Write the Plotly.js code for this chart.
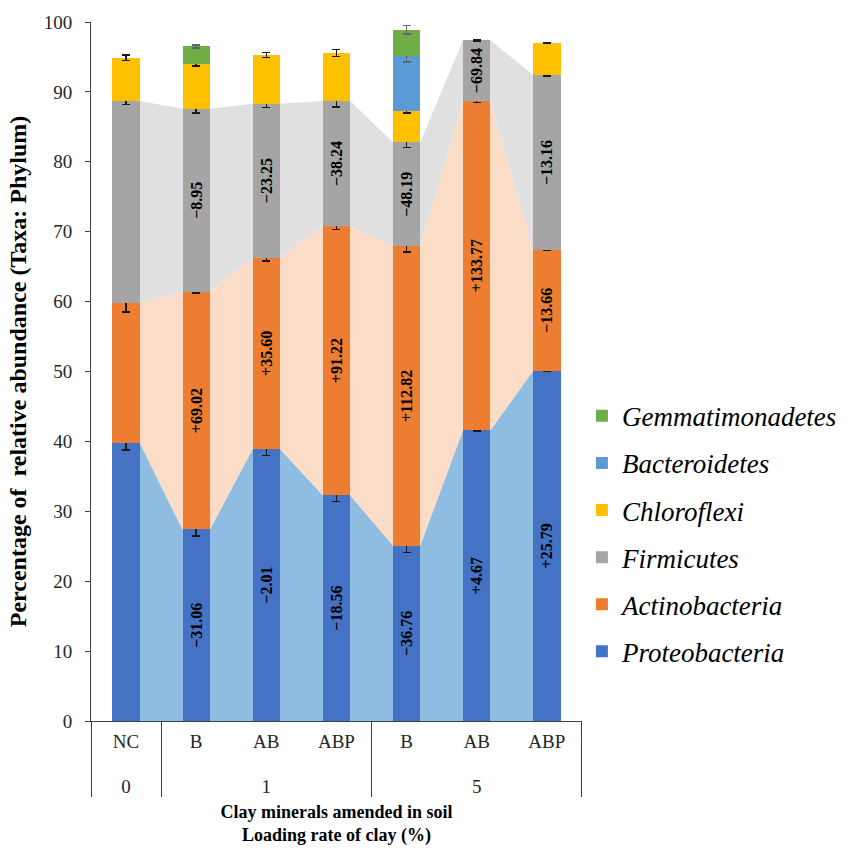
<!DOCTYPE html>
<html>
<head>
<meta charset="utf-8">
<script src="https://cdn.plot.ly/plotly-3.0.1.min.js"></script>
<style>html,body{margin:0;padding:0;background:#fff;}#chart{width:857px;height:848px;}</style>
</head>
<body>
<div id="chart"></div>
<script>
// ---- data ----
const loadingRate = ["0", "1", "1", "1", "5", "5", "5"];
const clayType = ["NC", "B", "AB", "ABP", "B", "AB", "ABP"];

const proteobacteria   = [39.8, 27.4, 38.9, 32.3, 25.1, 41.6, 50.1];
const actinobacteria   = [20.0, 34.0, 27.4, 38.5, 42.8, 47.1, 17.3];
const firmicutes       = [28.9, 26.2, 22.0, 17.9, 14.9, 8.7, 25.0];
const chloroflexi      = [6.2, 6.4, 7.0, 6.9, 4.4, null, 4.6];
const bacteroidetes    = [null, null, null, null, 8.0, null, null];
const gemmatimonadetes = [null, 2.5, null, null, 3.7, null, null];

const proteobacteriaErr   = [1.0, 0.9, 0.9, 0.9, 1.0, 0.1, 0.1];
const actinobacteriaErr   = [1.3, 0.15, 0.5, 0.5, 0.8, 0.25, 0.1];
const firmicutesErr       = [0.5, 0.6, 0.5, 0.85, 0.75, 0.1, 0.1];
const chloroflexiErr      = [0.4, 0.3, 0.35, 0.5, 0.2, null, 0.1];
const bacteroidetesErr    = [null, null, null, null, 0.95, null, null];
const gemmatimonadetesErr = [null, 0.2, null, null, 0.6, null, null];

const proteobacteriaChange = ["", "\u221231.06", "\u22122.01", "\u221218.56", "\u221236.76", "+4.67", "+25.79"];
const actinobacteriaChange = ["", "+69.02", "+35.60", "+91.22", "+112.82", "+133.77", "\u221213.66"];
const firmicutesChange     = ["", "\u22128.95", "\u221223.25", "\u221238.24", "\u221248.19", "\u221269.84", "\u221213.16"];

// ---- styling ----
const SERIF = "Liberation Serif";
const BAR_WIDTH = 0.39;
const colors = {
  proteo: "#4472C4", actino: "#ED7D31", firm: "#A5A5A5",
  chloro: "#FFC000", bact: "#5B9BD5", gemm: "#70AD47",
  proteoArea: "#8FBDE2", actinoArea: "#FBDCC6", firmArea: "#E0E0E0"
};

// connecting bands (drawn on a hidden linear axis behind the bars)
const bandX = [];
clayType.forEach((_, i) => { bandX.push(i - BAR_WIDTH / 2, i + BAR_WIDTH / 2); });
const cum1 = proteobacteria;
const cum2 = proteobacteria.map((v, i) => v + actinobacteria[i]);
const cum3 = cum2.map((v, i) => v + firmicutes[i]);
const dup = arr => { const o = []; arr.forEach(v => { o.push(v, v); }); return o; };

function band(yvals, fillMode, color) {
  return {
    type: "scatter", mode: "lines", x: bandX, y: dup(yvals),
    xaxis: "x", yaxis: "y", fill: fillMode, fillcolor: color,
    line: { width: 0, color: color }, showlegend: false, hoverinfo: "skip"
  };
}

// primary labels get an empty second line so the group level sits lower, as in the reference
const xCats = [loadingRate, clayType.map(c => c + "<br>\u00a0")];
function barTrace(name, vals, errs, color, labels, rank, errColor) {
  const t = {
    type: "bar", name: name, legendgroup: name, legendrank: rank,
    x: xCats, y: vals, xaxis: "x2", yaxis: "y",
    marker: { color: color, line: { width: 0 } },
    error_y: { type: "data", array: errs, visible: true, color: errColor || "#1a1a1a", thickness: 1.5, width: 4 },
    hoverinfo: "y+name"
  };
  if (labels) {
    t.text = labels;
    t.textposition = "inside";
    t.insidetextanchor = "middle";
    t.textangle = -90;
    t.constraintext = "none";
    t.textfont = { family: SERIF, size: 16, color: "#000", weight: "bold" };
  } else {
    t.textposition = "none";
  }
  return t;
}

const data = [
  band(cum1, "tozeroy", colors.proteoArea),
  band(cum2, "tonexty", colors.actinoArea),
  band(cum3, "tonexty", colors.firmArea),
  barTrace("Proteobacteria", proteobacteria, proteobacteriaErr, colors.proteo, proteobacteriaChange, 6),
  barTrace("Actinobacteria", actinobacteria, actinobacteriaErr, colors.actino, actinobacteriaChange, 5),
  barTrace("Firmicutes", firmicutes, firmicutesErr, colors.firm, firmicutesChange, 4),
  barTrace("Chloroflexi", chloroflexi, chloroflexiErr, colors.chloro, null, 3),
  barTrace("Bacteroidetes", bacteroidetes, bacteroidetesErr, colors.bact, null, 2, "#666"),
  barTrace("Gemmatimonadetes", gemmatimonadetes, gemmatimonadetesErr, colors.gemm, null, 1, "#666")
];

const layout = {
  width: 857, height: 848,
  margin: { l: 91, r: 270, t: 22, b: 127 },
  paper_bgcolor: "#fff", plot_bgcolor: "rgba(0,0,0,0)",
  font: { family: SERIF, color: "#262626", size: 19 },
  barmode: "stack", bargap: 1 - BAR_WIDTH,
  showlegend: true,
  legend: {
    xref: "container", yref: "container", x: 0.679, y: 0.538,
    xanchor: "left", yanchor: "top", traceorder: "grouped",
    font: { family: SERIF, size: 27, color: "#000", style: "italic" },
    bgcolor: "rgba(0,0,0,0)", tracegroupgap: 9, itemwidth: 30
  },
  xaxis: { type: "linear", range: [-0.5, 6.5], visible: false, fixedrange: true },
  xaxis2: {
    type: "multicategory", overlaying: "x", side: "bottom", range: [-0.5, 6.5],
    showline: true, linecolor: "#404040", linewidth: 1, ticks: "",
    showdividers: true, dividercolor: "#404040", dividerwidth: 1,
    tickfont: { family: SERIF, size: 19, color: "#262626" },
    ticklabelstandoff: 3,
    title: { text: "Clay minerals amended in soil<br>Loading rate of clay (%)",
             font: { family: SERIF, size: 18, color: "#000", weight: "bold" }, standoff: 9 },
    showgrid: false, zeroline: false
  },
  yaxis: {
    range: [0, 100], dtick: 10, tick0: 0, showgrid: false, zeroline: false,
    showline: true, linecolor: "#404040", linewidth: 1,
    ticks: "outside", ticklen: 5, tickcolor: "#404040", ticklabelstandoff: 9,
    tickfont: { family: SERIF, size: 19, color: "#262626" },
    title: { text: "Percentage of  relative abundance (Taxa: Phylum)",
             font: { family: SERIF, size: 24, color: "#000", weight: "bold" }, standoff: 10 }
  }
};

Plotly.newPlot("chart", data, layout, { displayModeBar: false, staticPlot: true });
</script>
</body>
</html>
